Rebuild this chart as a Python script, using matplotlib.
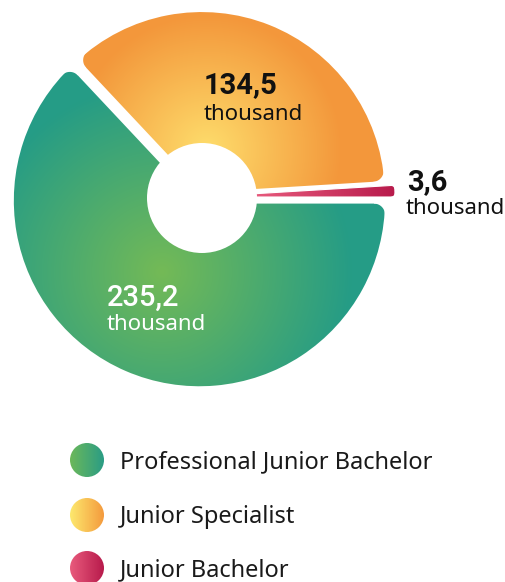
import numpy as np
import matplotlib.pyplot as plt
from matplotlib.colors import to_rgb
from matplotlib.patches import Circle, Polygon

W, H = 506, 582

categories = ["Professional Junior Bachelor", "Junior Specialist", "Junior Bachelor"]
values = [235.2, 134.5, 3.6]  # thousand
value_labels = ["235,2", "134,5", "3,6"]

plt.rcParams['font.family'] = ['Noto Sans', 'DejaVu Sans']

fig = plt.figure(figsize=(W / 100, H / 100), dpi=100)
ax = fig.add_axes([0, 0, 1, 1])

# pixel grid for gradients (y measured from top)
xx, yy = np.meshgrid(np.arange(W) + 0.5, np.arange(H) + 0.5)


def blend(t, c0, c1):
    t = np.clip(t, 0, 1)[..., None]
    return (1 - t) * np.array(to_rgb(c0)) + t * np.array(to_rgb(c1))


def radial(cx, cy, r, c0, c1):
    return blend(np.hypot(xx - cx, yy - cy) / r, c0, c1)


def linear(x0, x1, c0, c1):
    return blend((xx - x0) / (x1 - x0), c0, c1)


def fill(img, patch, z=0.5):
    im = ax.imshow(img, extent=(0, W, 0, H), origin='upper', zorder=z,
                   interpolation='bilinear')
    im.set_clip_path(patch)


def unit(deg):
    a = np.radians(deg)
    return np.array([np.cos(a), np.sin(a)])


def round_corners(w, rho, z):
    # white masks that round off the two outer corners of a wedge
    h = w.get_linewidth() * 100 / 72 / 2
    c = np.array(w.center)
    for th, side in ((w.theta1, 1), (w.theta2, -1)):
        rr = w.r - h
        p = c + rr * unit(th + side * np.degrees(h / rr))
        u = -unit(th)
        v = unit(th + side * 90)
        e = 3
        pts = [p + rho * u, p + rho * u - e * v, p - e * (u + v),
               p + rho * v - e * u, p + rho * v]
        cc = p + rho * (u + v)
        for phi in np.linspace(0, np.pi / 2, 16):
            pts.append(cc - rho * (np.cos(phi) * u + np.sin(phi) * v))
        ax.add_patch(Polygon(pts, closed=True, facecolor='white', edgecolor='none',
                             zorder=z))


# pie drawn counterclockwise: red, orange, green
cx, cy = 201, H - 197
wedges, _ = ax.pie(values[::-1], startangle=0.0, center=(cx, cy), radius=186,
                   wedgeprops=dict(width=140, facecolor='none', edgecolor='white',
                                   linewidth=4.2, zorder=2))
wedges = wedges[::-1]

radii = [188.5, 186, 194]
shift = [4, 2, 0]
for w, r, s in zip(wedges, radii, shift):
    tm = np.radians((w.theta1 + w.theta2) / 2)
    w.set_center((cx + s * np.cos(tm), cy + s * np.sin(tm)))
    w.set_radius(r)
    w.set_width(r - 40)
wedges[2].set_linewidth(0.8)
wedges[2].set_zorder(2.6)

fill(radial(162, 272, 190, '#74ba56', '#259c86'), wedges[0])
fill(radial(207, 150, 135, '#fedd6c', '#f3973b'), wedges[1])
fill(linear(258, 395, '#e6597c', '#b81b4c'), wedges[2], z=2.5)

round_corners(wedges[0], 11, 2.2)
round_corners(wedges[1], 11, 2.2)
round_corners(wedges[2], 3, 2.7)

ax.add_patch(Circle((202, H - 198), 55, facecolor='white', edgecolor='none', zorder=3))

# value labels
ax.text(204, H - 93, value_labels[1], fontsize=21, fontweight='bold', color='#111111',
        va='baseline', zorder=4, family='Roboto')
ax.text(204, H - 120, "thousand", fontsize=16, color='#111111', va='baseline', zorder=4)
ax.text(107, H - 306, value_labels[0], fontsize=21, fontweight='medium', color='white',
        va='baseline', zorder=4, family='Roboto')
ax.text(107, H - 330, "thousand", fontsize=16, color='white', va='baseline', zorder=4)
ax.text(407, H - 190, value_labels[2], fontsize=21, fontweight='bold', color='#111111',
        va='baseline', zorder=4, family='Roboto')
ax.text(406, H - 214, "thousand", fontsize=16, color='#111111', va='baseline', zorder=4)

# legend
legend_grad = [('#6cb85a', '#2a9c85'), ('#fde96e', '#f49a3d'), ('#e95b7d', '#b71a4b')]
legend_y = [460, 515, 568]
for name, (c0, c1), ly in zip(categories, legend_grad, legend_y):
    dot = Circle((87, H - ly), 17, facecolor='none', edgecolor='none', zorder=2)
    ax.add_patch(dot)
    fill(linear(70, 104, c0, c1), dot)
    ax.text(120, H - ly - 8, name, fontsize=17, color='#1a1a1a', va='baseline')

ax.set_xlim(0, W)
ax.set_ylim(0, H)
ax.axis('off')

fig.savefig('out.png', dpi=100)
